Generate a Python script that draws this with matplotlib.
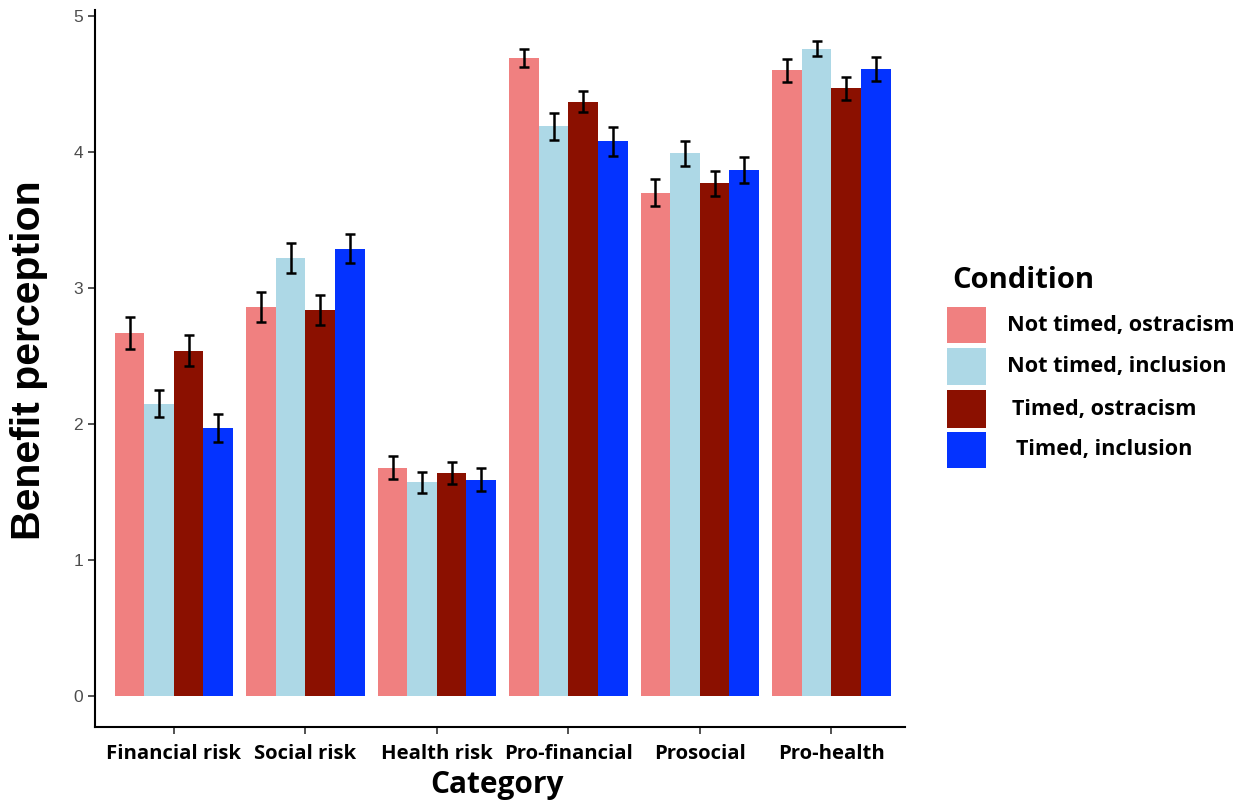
import matplotlib
matplotlib.use("Agg")
import matplotlib.pyplot as plt
import numpy as np
from matplotlib.patches import Rectangle

categories = ["Financial risk", "Social risk", "Health risk", "Pro-financial", "Prosocial", "Pro-health"]
conditions = ["Not timed, ostracism", "Not timed, inclusion", "Timed, ostracism", "Timed, inclusion"]
colors = ["#F08080", "#ADD8E6", "#8B1000", "#0433FF"]

nt_ostracism = [2.67, 2.86, 1.68, 4.69, 3.70, 4.60]
nt_inclusion = [2.15, 3.22, 1.57, 4.19, 3.99, 4.76]
t_ostracism = [2.54, 2.84, 1.64, 4.37, 3.77, 4.47]
t_inclusion = [1.97, 3.29, 1.59, 4.08, 3.87, 4.61]

nt_ostracism_se = [0.12, 0.11, 0.085, 0.066, 0.10, 0.085]
nt_inclusion_se = [0.10, 0.11, 0.077, 0.10, 0.09, 0.055]
t_ostracism_se = [0.115, 0.11, 0.08, 0.077, 0.09, 0.085]
t_inclusion_se = [0.10, 0.107, 0.085, 0.107, 0.096, 0.085]

values = [nt_ostracism, nt_inclusion, t_ostracism, t_inclusion]
errors = [nt_ostracism_se, nt_inclusion_se, t_ostracism_se, t_inclusion_se]

W, H = 1247, 800
fig = plt.figure(figsize=(W / 100, H / 100), dpi=100)
ax = fig.add_axes([95 / W, 73 / H, 810 / W, 717 / H])

x = np.arange(1, len(categories) + 1)
bw = 0.225
for i, (vals, errs, col) in enumerate(zip(values, errors, colors)):
    pos = x + (i - 1.5) * bw
    ax.bar(pos, vals, width=bw, color=col, edgecolor="none", zorder=2)
    ax.errorbar(pos, vals, yerr=errs, fmt="none", ecolor="black",
                elinewidth=1.8, capsize=3.5, capthick=1.8, zorder=3)

ax.set_xlim(0.4, 6.56)
ax.set_ylim(-0.228, 5.044)
ax.set_yticks([0, 1, 2, 3, 4, 5])
ax.set_xticks(x)
ax.set_xticklabels(categories, fontfamily="Open Sans", fontweight="bold", fontsize=14.6)
ax.tick_params(axis="y", labelsize=12.5, labelcolor="#4D4D4D", color="#333333", length=5, width=1.2)
ax.tick_params(axis="x", color="#333333", length=5, width=1.2, pad=7)
for lbl in ax.get_yticklabels():
    lbl.set_fontfamily("Liberation Sans")

for s in ["top", "right"]:
    ax.spines[s].set_visible(False)
for s in ["left", "bottom"]:
    ax.spines[s].set_linewidth(1.5)
    ax.spines[s].set_color("black")

fig.text(29 / W, 1 - 360 / H, "Benefit perception", rotation=90, ha="center", va="center",
         fontfamily=["Liberation Sans Narrow", "Liberation Sans"], fontweight="bold", fontsize=29.5)
fig.text(497 / W, 1 - 785 / H, "Category", ha="center", va="center",
         fontfamily="Open Sans", fontweight="bold", fontsize=21.5)

# legend
fig.text(952 / W, 1 - 280 / H, "Condition", ha="left", va="center",
         fontfamily="Open Sans", fontweight="bold", fontsize=21)
patch_rows = [(307, 343), (348, 385), (390, 428), (432, 468)]
label_x = [1007, 1007, 1012, 1016]
for (y0, y1), col, lab, lx in zip(patch_rows, colors, conditions, label_x):
    fig.patches.append(Rectangle((947 / W, 1 - y1 / H), 39 / W, (y1 - y0) / H,
                                 transform=fig.transFigure, facecolor=col, edgecolor="none"))
    fig.text(lx / W, 1 - ((y0 + y1) / 2) / H, lab, ha="left", va="center",
             fontfamily="Open Sans", fontweight="bold", fontsize=15.6)

fig.savefig("out.png", dpi=100, facecolor="white")
